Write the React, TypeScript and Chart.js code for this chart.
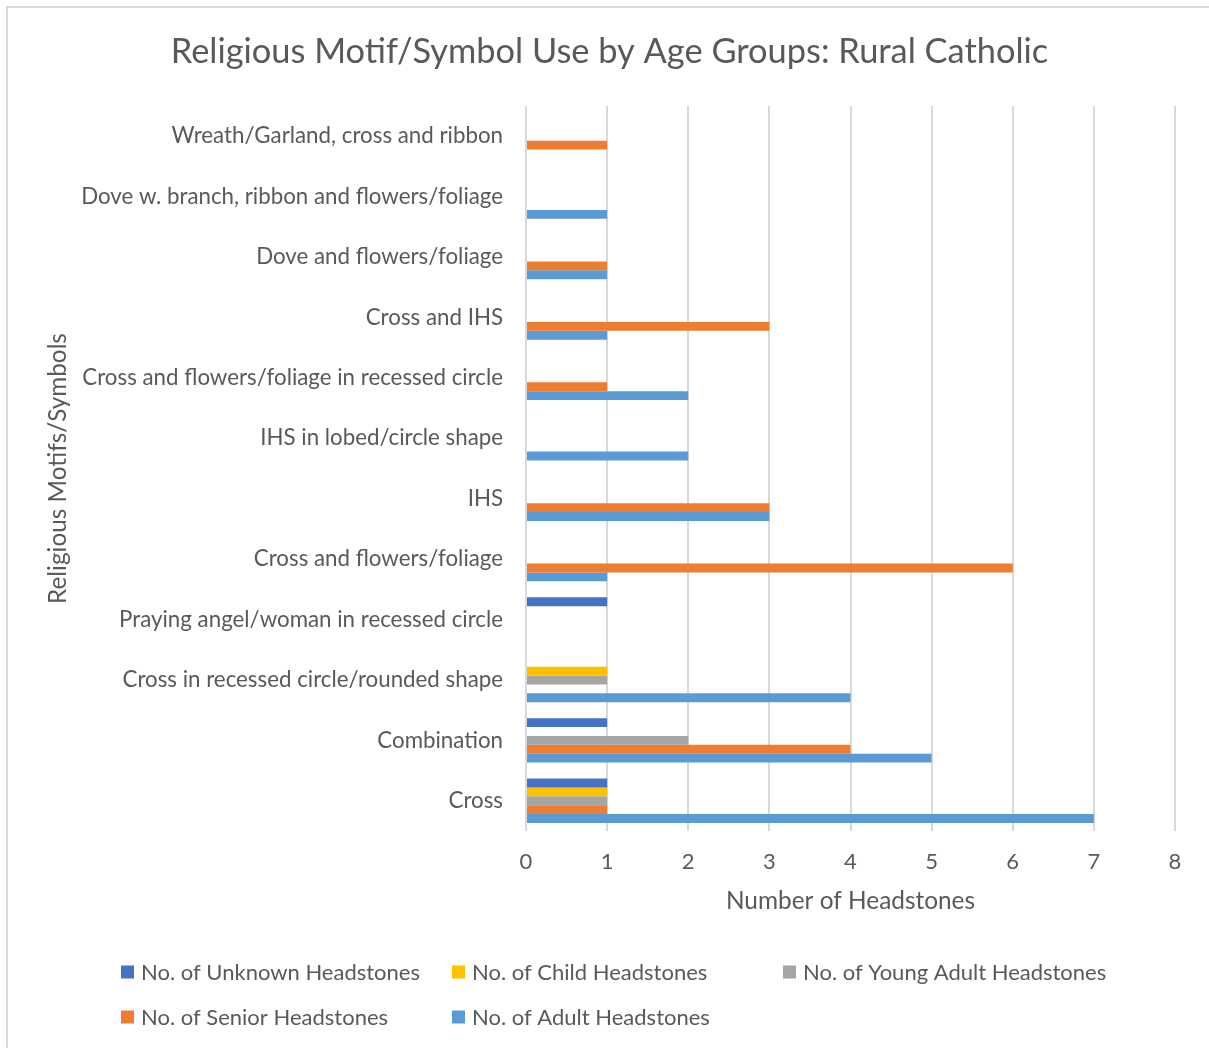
import React, { useEffect, useRef } from "react";
import { Chart, registerables } from "chart.js";

Chart.register(...registerables);

// ---- Data (bottom-to-top category order, as in the original Excel chart) ----
const categories: string[] = [
  "Cross",
  "Combination",
  "Cross in recessed circle/rounded shape",
  "Praying angel/woman in recessed circle",
  "Cross and flowers/foliage",
  "IHS",
  "IHS in lobed/circle shape",
  "Cross and flowers/foliage in recessed circle",
  "Cross and IHS",
  "Dove and flowers/foliage",
  "Dove w. branch, ribbon and flowers/foliage",
  "Wreath/Garland, cross and ribbon",
];

const unknownHeadstones: number[] = [1, 1, 0, 1, 0, 0, 0, 0, 0, 0, 0, 0];
const childHeadstones: number[] = [1, 0, 1, 0, 0, 0, 0, 0, 0, 0, 0, 0];
const youngAdultHeadstones: number[] = [1, 2, 1, 0, 0, 0, 0, 0, 0, 0, 0, 0];
const seniorHeadstones: number[] = [1, 4, 0, 0, 6, 3, 0, 1, 3, 1, 0, 1];
const adultHeadstones: number[] = [7, 5, 4, 0, 1, 3, 2, 2, 1, 1, 1, 0];

const seriesLabels: string[] = [
  "No. of Unknown Headstones",
  "No. of Child Headstones",
  "No. of Young Adult Headstones",
  "No. of Senior Headstones",
  "No. of Adult Headstones",
];

const xTickValues: number[] = [0, 1, 2, 3, 4, 5, 6, 7, 8];

const TITLE = "Religious Motif/Symbol Use by Age Groups: Rural Catholic";
const X_TITLE = "Number of Headstones";
const Y_TITLE = "Religious Motifs/Symbols";

// ---- Styles ----
const W = 1209;
const H = 1048;
const FONT = "Lato, 'Open Sans', sans-serif";
const TEXT = "#595959";
const COLORS = ["#4472C4", "#FFC000", "#A5A5A5", "#ED7D31", "#5B9BD5"];
const PAD_LEFT = 44;

const gridLegend = {
  id: "gridLegend",
  afterDraw(chart: any) {
    const ctx = chart.ctx as CanvasRenderingContext2D;
    ctx.save();
    ctx.font = `22px ${FONT}`;
    ctx.textBaseline = "middle";
    ctx.textAlign = "left";
    chart.data.datasets.forEach((ds: any, i: number) => {
      const col = i % 3;
      const row = Math.floor(i / 3);
      const x = 121 + col * 331;
      const y = 972 + row * 45;
      ctx.fillStyle = ds.backgroundColor;
      ctx.fillRect(x, y - 6.5, 13, 13);
      ctx.fillStyle = TEXT;
      ctx.fillText(ds.label, x + 20, y + 1);
    });
    ctx.restore();
  },
};

export default function App() {
  const ref = useRef<HTMLCanvasElement>(null);

  useEffect(() => {
    const seriesData = [
      unknownHeadstones,
      childHeadstones,
      youngAdultHeadstones,
      seniorHeadstones,
      adultHeadstones,
    ];
    const chart = new Chart(ref.current as HTMLCanvasElement, {
      type: "bar",
      data: {
        labels: categories,
        datasets: seriesData.map((d, i) => ({
          label: seriesLabels[i],
          data: d,
          backgroundColor: COLORS[i],
          borderWidth: 0,
          categoryPercentage: 0.735,
          barPercentage: 1.0,
        })),
      },
      options: {
        responsive: false,
        animation: false,
        indexAxis: "y",
        layout: { padding: { left: PAD_LEFT, right: 34, top: 0, bottom: 117 } },
        plugins: {
          legend: { display: false },
          tooltip: { enabled: false },
          title: {
            display: true,
            text: TITLE,
            color: TEXT,
            font: { family: FONT, size: 34.4, weight: "normal", lineHeight: 1.2 },
            padding: { top: 31.4, bottom: 106 - 31.4 - 34.4 * 1.2 },
          },
        },
        scales: {
          x: {
            type: "linear",
            min: xTickValues[0],
            max: xTickValues[xTickValues.length - 1],
            afterBuildTicks: (scale: any) => {
              scale.ticks = xTickValues.map((v) => ({ value: v }));
            },
            ticks: {
              color: TEXT,
              font: { family: FONT, size: 22, lineHeight: 1.2 },
              padding: 18,
              maxRotation: 0,
            },
            grid: { color: "#D9D9D9", lineWidth: 2, drawTicks: false },
            border: { display: false },
            title: {
              display: true,
              text: X_TITLE,
              color: TEXT,
              font: { family: FONT, size: 24.4, lineHeight: 1.2 },
              padding: { top: 0, bottom: 15 },
            },
            afterFit: (scale: any) => {
              scale.height = 100;
            },
          },
          y: {
            type: "category",
            reverse: true,
            ticks: {
              color: TEXT,
              font: { family: FONT, size: 22.3 },
              padding: 23,
              autoSkip: false,
            },
            grid: { display: false, drawTicks: false },
            border: { display: false },
            title: {
              display: true,
              text: Y_TITLE,
              color: TEXT,
              font: { family: FONT, size: 24.3, lineHeight: 1.2 },
              padding: { top: 0, bottom: 0 },
            },
            afterFit: (scale: any) => {
              scale.width = 526 - PAD_LEFT;
            },
          },
        },
      },
      plugins: [gridLegend],
    } as any);
    return () => chart.destroy();
  }, []);

  return (
    <div
      style={{
        position: "fixed",
        left: 0,
        top: 0,
        width: W,
        height: H,
        overflow: "hidden",
        background: "#ffffff",
      }}
    >
      <div
        style={{
          position: "absolute",
          left: 6,
          top: 6,
          width: W + 50,
          height: H + 50,
          borderLeft: "2px solid #D9D9D9",
          borderTop: "2px solid #D9D9D9",
        }}
      />
      <canvas
        ref={ref}
        width={W}
        height={H}
        style={{ position: "absolute", left: 0, top: 0, width: W, height: H }}
      />
    </div>
  );
}
